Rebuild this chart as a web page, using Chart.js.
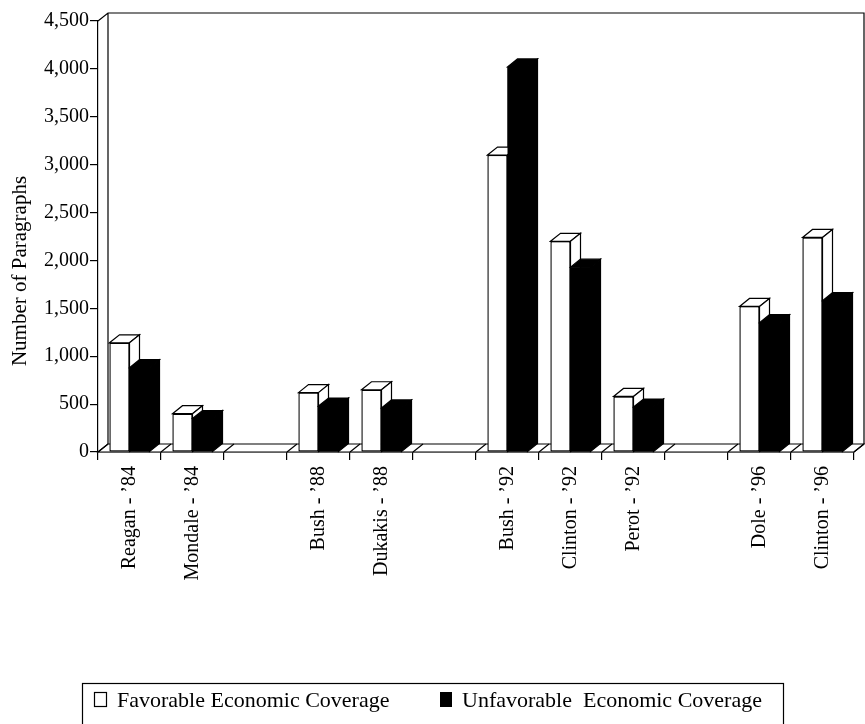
<!DOCTYPE html>
<html>
<head>
<meta charset="utf-8">
<title>Economic coverage by candidate</title>
<script src="https://cdn.jsdelivr.net/npm/chart.js@4.4.1/dist/chart.umd.min.js"></script>
<style>
  body { margin: 0; background: #fff; }
  canvas { display: block; }
</style>
</head>
<body>
<canvas id="chart" width="865" height="724"></canvas>
<script>
// Candidates by campaign year, the empty entries are the gaps between elections
const candidates = ['Reagan - ’84', 'Mondale - ’84', '', 'Bush - ’88', 'Dukakis - ’88', '',
    'Bush - ’92', 'Clinton - ’92', 'Perot - ’92', '', 'Dole - ’96', 'Clinton - ’96'];
const favorable = [1140, 400, null, 620, 650, null, 3100, 2200, 580, null, 1520, 2240];
const unfavorable = [880, 350, null, 480, 460, null, 4020, 1930, 470, null, 1350, 1580];
const yTicks = [0, 500, 1000, 1500, 2000, 2500, 3000, 3500, 4000, 4500];
const seriesNames = ['Favorable Economic Coverage', 'Unfavorable  Economic Coverage'];
const yTitle = 'Number of Paragraphs';

// depth of the fake 3D look, in pixels
const DX = 10;
const DY = 8;
const LINE = 1.2;

Chart.defaults.font.family = '"Liberation Serif", "Times New Roman", serif';
Chart.defaults.color = '#000';

// Draw the side and top faces of one bar
function drawFaces(ctx, bar, dark) {
    const p = bar.getProps(['x', 'y', 'base', 'width'], true);
    const left = p.x - p.width / 2;
    const right = p.x + p.width / 2;
    ctx.fillStyle = dark ? '#000' : '#fff';
    ctx.strokeStyle = '#000';
    ctx.lineWidth = LINE;
    // top face
    ctx.beginPath();
    ctx.moveTo(left, p.y);
    ctx.lineTo(left + DX, p.y - DY);
    ctx.lineTo(right + DX, p.y - DY);
    ctx.lineTo(right, p.y);
    ctx.closePath();
    ctx.fill();
    ctx.stroke();
    // right side face
    ctx.beginPath();
    ctx.moveTo(right, p.y);
    ctx.lineTo(right + DX, p.y - DY);
    ctx.lineTo(right + DX, p.base - DY);
    ctx.lineTo(right, p.base);
    ctx.closePath();
    ctx.fill();
    ctx.stroke();
}

const boxPlugin = {
    id: 'box3d',
    beforeDatasetsDraw(chart) {
        const a = chart.chartArea;
        const ctx = chart.ctx;
        const xs = chart.scales.x;
        ctx.save();
        ctx.strokeStyle = '#000';
        ctx.lineWidth = LINE;
        // back wall
        ctx.beginPath();
        ctx.moveTo(a.left, a.top);
        ctx.lineTo(a.left + DX, a.top - DY);
        ctx.lineTo(a.right + DX, a.top - DY);
        ctx.lineTo(a.right + DX, a.bottom - DY);
        ctx.moveTo(a.left + DX, a.top - DY);
        ctx.lineTo(a.left + DX, a.bottom - DY);
        ctx.stroke();
        // floor
        ctx.fillStyle = '#fff';
        ctx.beginPath();
        ctx.moveTo(a.left, a.bottom);
        ctx.lineTo(a.left + DX, a.bottom - DY);
        ctx.lineTo(a.right + DX, a.bottom - DY);
        ctx.lineTo(a.right, a.bottom);
        ctx.closePath();
        ctx.fill();
        ctx.stroke();
        // floor dividers at the category boundaries
        ctx.beginPath();
        for (let i = 0; i <= candidates.length; i++) {
            const px = xs.getPixelForValue(i - 0.5);
            ctx.moveTo(px, a.bottom);
            ctx.lineTo(px + DX, a.bottom - DY);
        }
        ctx.stroke();
        ctx.restore();
    },
    afterDatasetsDraw(chart) {
        const ctx = chart.ctx;
        const fav = chart.getDatasetMeta(0).data;
        const unfav = chart.getDatasetMeta(1).data;
        ctx.save();
        // redraw bar by bar so the dark bar hides the light bar's side
        for (let i = 0; i < candidates.length; i++) {
            if (favorable[i] !== null) {
                fav[i].draw(ctx);
                drawFaces(ctx, fav[i], false);
            }
            if (unfavorable[i] !== null) {
                unfav[i].draw(ctx);
                drawFaces(ctx, unfav[i], true);
            }
        }
        ctx.restore();
    },
    afterDraw(chart) {
        const ctx = chart.ctx;
        ctx.save();
        ctx.fillStyle = '#000';
        ctx.strokeStyle = '#000';
        ctx.lineWidth = LINE;

        // y axis title
        ctx.save();
        ctx.translate(20, 271);
        ctx.rotate(-Math.PI / 2);
        ctx.font = '21px "Liberation Serif"';
        ctx.textAlign = 'center';
        ctx.textBaseline = 'middle';
        ctx.fillText(yTitle, 0, 0);
        ctx.restore();

        // legend box
        ctx.strokeRect(82.5, 683.5, 701, 60);
        ctx.font = '22px "Liberation Serif"';
        ctx.textBaseline = 'alphabetic';
        ctx.textAlign = 'left';
        ctx.fillStyle = '#fff';
        ctx.fillRect(94.5, 692.5, 12, 14);
        ctx.strokeRect(94.5, 692.5, 12, 14);
        ctx.fillStyle = '#000';
        ctx.fillText(seriesNames[0], 117, 707);
        ctx.fillRect(440, 692, 12, 15);
        ctx.fillText(seriesNames[1], 462, 707);
        ctx.restore();
    }
};

new Chart(document.getElementById('chart').getContext('2d'), {
    type: 'bar',
    data: {
        labels: candidates,
        datasets: [{
            label: seriesNames[0],
            data: favorable,
            backgroundColor: '#fff',
            borderColor: '#000',
            borderWidth: LINE,
            borderSkipped: false
        }, {
            label: seriesNames[1],
            data: unfavorable,
            backgroundColor: '#000',
            borderWidth: 0
        }]
    },
    options: {
        responsive: false,
        animation: false,
        devicePixelRatio: 1,
        datasets: {
            bar: {
                categoryPercentage: 0.635,
                barPercentage: 1.0
            }
        },
        layout: {
            padding: { top: 21, right: 11, left: 0, bottom: 0 }
        },
        plugins: {
            legend: { display: false },
            tooltip: { enabled: false }
        },
        scales: {
            x: {
                ticks: {
                    color: '#000',
                    font: { size: 20 },
                    minRotation: 90,
                    maxRotation: 90,
                    padding: 6,
                    autoSkip: false
                },
                grid: {
                    offset: true,
                    drawOnChartArea: false,
                    tickLength: 8,
                    color: '#000',
                    lineWidth: LINE
                },
                border: { color: '#000', width: LINE },
                afterFit: function(scale) { scale.height = 272; }
            },
            y: {
                min: 0,
                max: 4500,
                afterBuildTicks: function(scale) {
                    scale.ticks = yTicks.map(v => ({ value: v }));
                },
                ticks: {
                    color: '#000',
                    font: { size: 20 },
                    padding: 1,
                    callback: v => v.toLocaleString('en-US')
                },
                grid: {
                    drawOnChartArea: false,
                    tickLength: 8,
                    color: '#000',
                    lineWidth: LINE
                },
                border: { color: '#000', width: LINE },
                afterFit: function(scale) { scale.width = 98; }
            }
        }
    },
    plugins: [boxPlugin]
});
</script>
</body>
</html>
